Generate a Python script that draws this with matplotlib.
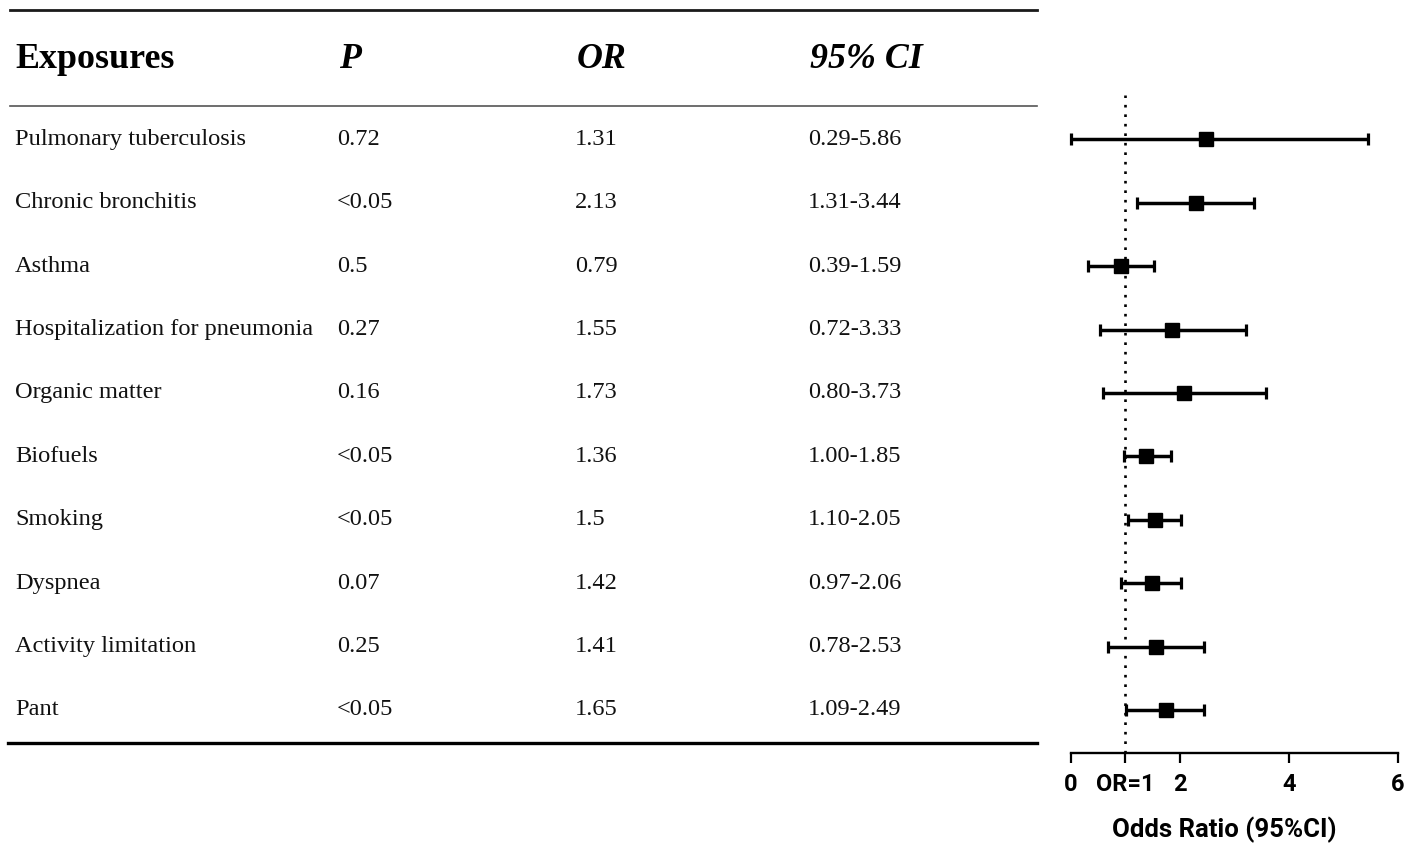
import matplotlib
matplotlib.use("Agg")
import matplotlib.pyplot as plt
from matplotlib.lines import Line2D
from matplotlib.transforms import blended_transform_factory

# table columns
exposures = ["Pulmonary tuberculosis", "Chronic bronchitis", "Asthma",
             "Hospitalization for pneumonia", "Organic matter", "Biofuels",
             "Smoking", "Dyspnea", "Activity limitation", "Pant"]
p_text = ["0.72", "<0.05", "0.5", "0.27", "0.16", "<0.05", "<0.05", "0.07", "0.25", "<0.05"]
or_text = ["1.31", "2.13", "0.79", "1.55", "1.73", "1.36", "1.5", "1.42", "1.41", "1.65"]
ci_text = ["0.29-5.86", "1.31-3.44", "0.39-1.59", "0.72-3.33", "0.80-3.73",
           "1.00-1.85", "1.10-2.05", "0.97-2.06", "0.78-2.53", "1.09-2.49"]

# values as drawn in the forest plot
or_plot = [2.49, 2.29, 0.92, 1.86, 2.08, 1.39, 1.55, 1.49, 1.57, 1.74]
lo_plot = [0.00, 1.21, 0.31, 0.53, 0.59, 0.97, 1.06, 0.93, 0.68, 1.02]
hi_plot = [5.46, 3.37, 1.53, 3.21, 3.59, 1.84, 2.03, 2.03, 2.45, 2.44]

xticks = [0, 1, 2, 4, 6]
xtick_labels = ["0", "OR=1", "2", "4", "6"]

W, H = 1418, 859
fig = plt.figure(figsize=(W / 100, H / 100), dpi=100)

# forest plot axes
ax = fig.add_axes([1070.7 / W, 1 - 752.7 / H, 327 / W, (752.7 - 95) / H])
rows = list(range(len(exposures)))
err = [[o - l for o, l in zip(or_plot, lo_plot)], [h - o for o, h in zip(or_plot, hi_plot)]]
ax.errorbar(or_plot, rows, xerr=err, fmt="s", color="black", ms=9.5,
            elinewidth=2.5, capsize=4.5, capthick=2.3, clip_on=False, zorder=3)
ax.axvline(1, color="black", lw=1.9, ls=(0, (1, 2.6)), zorder=1)
ax.set_xlim(0, 6)
ax.set_ylim(9.675, -0.70)
for s in ["top", "right", "left"]:
    ax.spines[s].set_visible(False)
ax.spines["bottom"].set_linewidth(1.7)
ax.set_yticks([])
ax.set_xticks(xticks)
ax.set_xticklabels(xtick_labels, fontfamily="Roboto", fontweight="bold", fontsize=17)
ax.tick_params(axis="x", length=7.5, width=1.6, pad=7)
ax.set_xlabel("Odds Ratio (95%CI)", fontfamily="Roboto", fontweight="bold",
              fontsize=18.5)
ax.xaxis.set_label_coords(0.469, -0.098)

# table text, rows aligned to forest rows
tr = blended_transform_factory(fig.transFigure, ax.transData)
col_x = [15 / W, 337 / W, 575 / W, 808 / W]
serif = "Liberation Serif"
for i in rows:
    for cx, txt in zip(col_x, [exposures[i], p_text[i], or_text[i], ci_text[i]]):
        fig.text(cx, i, txt, transform=tr, ha="left", va="center",
                 fontfamily=serif, fontsize=17.6, color="#111111")

head_y = 1 - 60 / H
fig.text(col_x[0], head_y, "Exposures", ha="left", va="center",
         fontfamily=serif, fontweight="bold", fontsize=25.8)
for cx, txt in zip(col_x[1:], ["P", "OR", "95% CI"]):
    fig.text(cx + 2 / W, head_y, txt, ha="left", va="center", fontfamily=serif,
             fontweight="bold", fontstyle="italic", fontsize=25.8)

# table rules
fig.add_artist(Line2D([10 / W, 1037 / W], [1 - 10 / H] * 2, color="#1a1a1a", lw=2.0))
fig.add_artist(Line2D([10 / W, 1037 / W], [1 - 106 / H] * 2, color="#555555", lw=1.2))
fig.add_artist(Line2D([8 / W, 1037 / W], [1 - 743 / H] * 2, color="black", lw=2.4))

fig.savefig("out.png", dpi=100)
